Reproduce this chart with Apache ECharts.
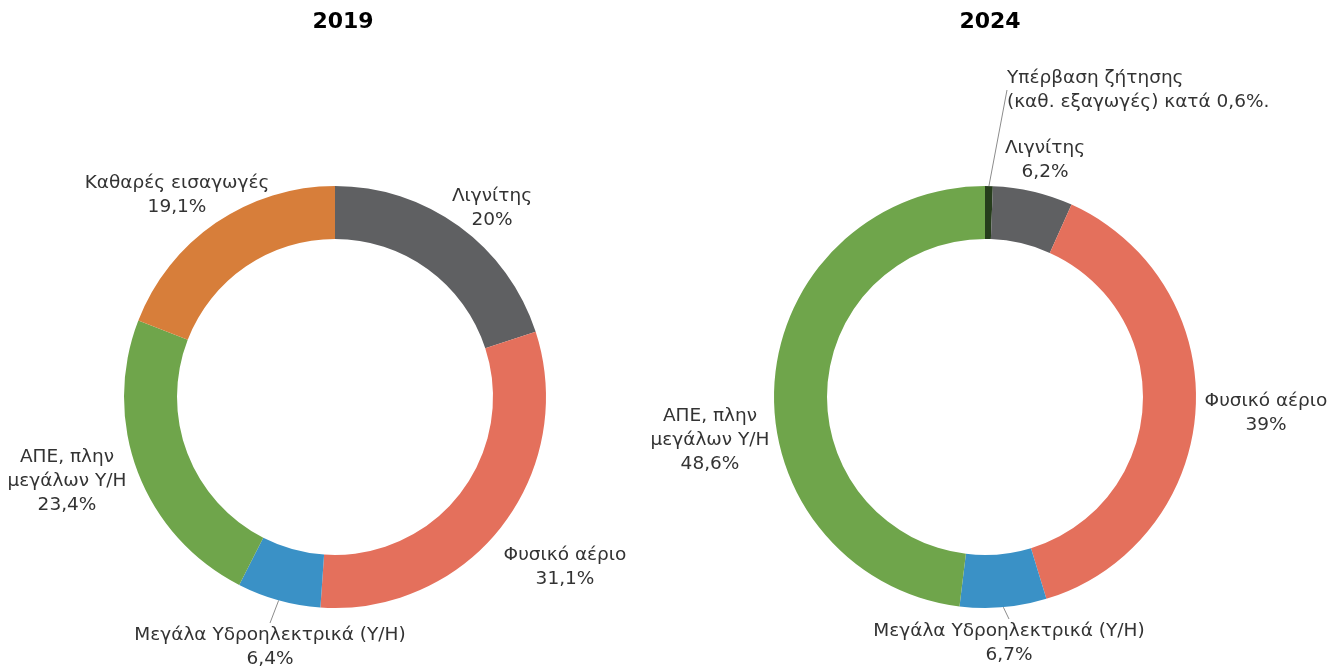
<!DOCTYPE html>
<html lang="el">
<head>
   <meta charset="UTF-8">
   <title>Ηλεκτροπαραγωγή 2019 - 2024</title>
   <script src="https://cdn.jsdelivr.net/npm/echarts@6/dist/echarts.min.js"></script>
   <style>
      html, body { margin: 0; padding: 0; background: #fff; }
      #main { width: 1343px; height: 672px; }
   </style>
</head>
<body>
   <div id="main"></div>
   <script>
      // δεδομένα
      var years = ['2019', '2024'];

      var names2019 = ['Λιγνίτης', 'Φυσικό αέριο', 'Μεγάλα Υδροηλεκτρικά (Υ/Η)', 'ΑΠΕ, πλην\nμεγάλων Υ/Η', 'Καθαρές εισαγωγές'];
      var values2019 = [20, 31.1, 6.4, 23.4, 19.1];
      var colors2019 = ['#5f6062', '#e4705c', '#3a91c6', '#6fa54b', '#d77e3a'];

      var names2024 = ['Υπέρβαση ζήτησης\n(καθ. εξαγωγές) κατά', 'Λιγνίτης', 'Φυσικό αέριο', 'Μεγάλα Υδροηλεκτρικά (Υ/Η)', 'ΑΠΕ, πλην\nμεγάλων Υ/Η'];
      var values2024 = [0.6, 6.2, 39, 6.7, 48.6];
      var colors2024 = ['#263d1c', '#5f6062', '#e4705c', '#3a91c6', '#6fa54b'];

      // θέσεις ετικετών (κέντρο κειμένου)
      var labelPos2019 = [[492, 208], [565, 567], [270, 647], [67, 481], [177, 195]];
      var labelPos2024 = [[1007, 90], [1045, 160], [1266, 413], [1009, 643], [710, 440]];

      var chart = echarts.init(document.getElementById('main'));

      function fmt(v) {
         return String(v).replace('.', ',') + '%';
      }

      function makeData(names, values, colors, lineIdx) {
         return names.map(function (n, i) {
            return {
               name: n,
               value: values[i],
               itemStyle: { color: colors[i] },
               labelLine: { show: lineIdx.indexOf(i) >= 0 }
            };
         });
      }

      function makeSeries(center, data, positions, leftIdx) {
         return {
            type: 'pie',
            center: center,
            radius: [158, 211],
            startAngle: 90,
            clockwise: true,
            avoidLabelOverlap: false,
            silent: true,
            itemStyle: { borderWidth: 0 },
            label: {
               show: true,
               position: 'outside',
               color: '#333',
               fontFamily: 'DejaVu Sans',
               fontSize: 18.5,
               lineHeight: 24,
               formatter: function (p) {
                  if (p.dataIndex === leftIdx) return p.name + ' ' + fmt(p.value) + '.';
                  return p.name + '\n' + fmt(p.value);
               }
            },
            labelLine: {
               lineStyle: { color: '#8c8c8c', width: 1 },
               length: 10,
               length2: 0
            },
            labelLayout: function (p) {
               var pos = positions[p.dataIndex];
               return {
                  x: pos[0],
                  y: pos[1],
                  align: p.dataIndex === leftIdx ? 'left' : 'center',
                  verticalAlign: 'middle'
               };
            },
            data: data
         };
      }

      var option = {
         animation: false,
         title: [
            {
               text: years[0],
               left: 338,
               top: 6,
               textAlign: 'center',
               textStyle: { fontFamily: 'DejaVu Sans', fontWeight: 'bold', fontSize: 22, color: '#000' }
            },
            {
               text: years[1],
               left: 985,
               top: 6,
               textAlign: 'center',
               textStyle: { fontFamily: 'DejaVu Sans', fontWeight: 'bold', fontSize: 22, color: '#000' }
            }
         ],
         series: [
            makeSeries([335, 397], makeData(names2019, values2019, colors2019, [2]), labelPos2019, -1),
            makeSeries([985, 397], makeData(names2024, values2024, colors2024, [0, 3]), labelPos2024, 0)
         ]
      };

      chart.setOption(option);
   </script>
</body>
</html>
